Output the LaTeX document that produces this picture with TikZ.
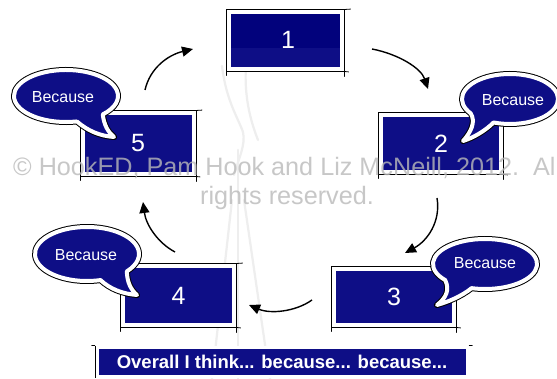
\documentclass[tikz,border=0pt]{standalone}
\usepackage{fontspec}
\setmainfont{Liberation Sans}
\usetikzlibrary{arrows.meta}
\definecolor{boxblue}{RGB}{14,14,134}
\definecolor{deepnavy}{RGB}{2,2,124}
\definecolor{wmgrey}{RGB}{186,186,186}
\definecolor{logogrey}{RGB}{238,238,238}

\begin{document}
\begin{tikzpicture}[x=1pt,y=-1pt,
  numbox/.style={fill=boxblue, draw=white, line width=4pt, outer sep=0pt,
    preaction={draw=black, line width=6pt},
    text=white, inner sep=0pt, font=\fontsize{25}{25}\selectfont},
  barbox/.style={fill=boxblue, draw=white, line width=3pt, outer sep=0pt,
    preaction={draw=black, line width=4.6pt},
    text=white, inner sep=0pt, font=\bfseries\fontsize{18.5}{18.5}\selectfont},
  sketch/.style={draw=black, line width=0.8pt, line cap=round},
  bubble/.style={fill=boxblue, draw=white, line width=4pt, line join=round,
    preaction={draw=black, line width=6pt, line join=round}},
  bubtext/.style={text=white, inner sep=0pt, font=\fontsize{16}{16}\selectfont},
  arr/.style={draw=black, line width=1.4pt, -{Triangle[length=11pt,width=10pt]}},
  wmark/.style={text=wmgrey, opacity=0.8, inner sep=0pt, font=\fontsize{25.2}{25.2}\selectfont},
  logo/.style={draw=logogrey, line width=2.2pt, line cap=round}
]
\useasboundingbox (0,0) rectangle (557,379);
\clip (0,0) rectangle (557,379);
\fill[white] (0,0) rectangle (557,379);

% faint compass logo in the background
\draw[logo] (222,66) .. controls (226,100) and (238,118) .. (243,132)
            .. controls (246,145) and (238,160) .. (234,175);
\draw[logo] (246,66) .. controls (244,95) and (250,120) .. (258,140);
\draw[logo] (232,200) -- (212,379);
\draw[logo] (244,200) -- (270,379);
\draw[logo] (238,150) -- (238,379);

% arrow end points
\coordinate (a1s) at (145,90);  \coordinate (a1e) at (193,49);
\coordinate (a2s) at (372,49);  \coordinate (a2e) at (428,89);
\coordinate (a3s) at (437,198); \coordinate (a3e) at (405,253);
\coordinate (a4s) at (312,300); \coordinate (a4e) at (249,305);
\coordinate (a5s) at (175,252); \coordinate (a5e) at (143,202);

\draw[arr] (a1s) .. controls (150,68) and (168,55) .. (a1e);
\draw[arr] (a2s) .. controls (398,54) and (421,68) .. (a2e);
\draw[arr] (a3s) .. controls (441,222) and (427,241) .. (a3e);
\draw[arr] (a4s) .. controls (295,312) and (270,314) .. (a4e);
\draw[arr] (a5s) .. controls (158,243) and (146,225) .. (a5e);

% numbered boxes
\node[numbox, minimum width=113pt, minimum height=57pt] (b1) at (285.5,40.5) {};
\fill[deepnavy] (231,14) rectangle (340,48);
\node[text=white, inner sep=0pt, font=\fontsize{25}{25}\selectfont] (n1) at (288,40) {1};
\node[numbox, minimum width=120pt, minimum height=57pt] (b2) at (441,143.5) {2};
\node[numbox, minimum width=120pt, minimum height=56pt] (b3) at (394,297) {3};
\node[numbox, minimum width=111pt, minimum height=59pt] (b4) at (178.5,295.5) {4};
\node[numbox, minimum width=111pt, minimum height=61pt] (b5) at (138,143.5) {5};

% summary bar
\node[barbox, minimum width=370pt, minimum height=28pt] (bar) at (282,362)
  {Overall I think... because... because...};

% hand-drawn overshooting frame strokes
\foreach \b in {b1,b2,b3,b4,b5} {
  \draw[sketch] ([shift={(2.5,-2.5)}]\b.north east) -- ++(6,-0.4);
  \draw[sketch] ([shift={(2.5,2.5)}]\b.south east) -- ++(0,5);
  \draw[sketch] ([shift={(-2.5,2.5)}]\b.south west) -- ++(0,4);
  \draw[sketch] ([shift={(2.5,2.5)}]\b.south east) -- ++(4,0.4);
}
\draw[sketch] ([shift={(-2.3,-2.3)}]bar.north west) -- ++(-3,0);
\draw[sketch] ([shift={(2.3,-2.3)}]bar.north east) -- ++(3,0);

% speech bubbles
\path[bubble] (510,99) ++(145:48 and 25)
  arc[start angle=145, end angle=470, x radius=48, y radius=25]
  .. controls (485,131) and (473,138) .. (463,141)
  .. controls (471,132) and (476,122) .. (470.7,113.3) -- cycle;
\node[bubtext] (q2) at (513,100) {Because};

\path[bubble] (66,96) ++(78:52 and 26)
  arc[start angle=78, end angle=405, x radius=52, y radius=26]
  .. controls (104,125) and (108,132) .. (114,137)
  .. controls (100,136) and (88,131) .. (76.8,121.4) -- cycle;
\node[bubtext] (q5) at (63,97) {Because};

\path[bubble] (87,254) ++(75:52 and 27)
  arc[start angle=75, end angle=400, x radius=52, y radius=27]
  .. controls (127,282) and (131,290) .. (137,295)
  .. controls (123,294) and (110,289) .. (100.5,280.1) -- cycle;
\node[bubtext] (q4) at (86,255) {Because};

\path[bubble] (485,264) ++(140:52 and 25)
  arc[start angle=140, end angle=465, x radius=52, y radius=25]
  .. controls (462,296) and (448,302) .. (437,305)
  .. controls (446,298) and (450,290) .. (445.2,280.1) -- cycle;
\node[bubtext] (q3) at (485,263) {Because};

% copyright line across the picture
\node[wmark, anchor=base west] (wm1) at (13,176)
  {© HookED, Pam Hook and Liz McNeill, 2012.\ \ All};
\node[wmark, anchor=base] (wm2) at (287,205) {rights reserved.};
\end{tikzpicture}
\end{document}
